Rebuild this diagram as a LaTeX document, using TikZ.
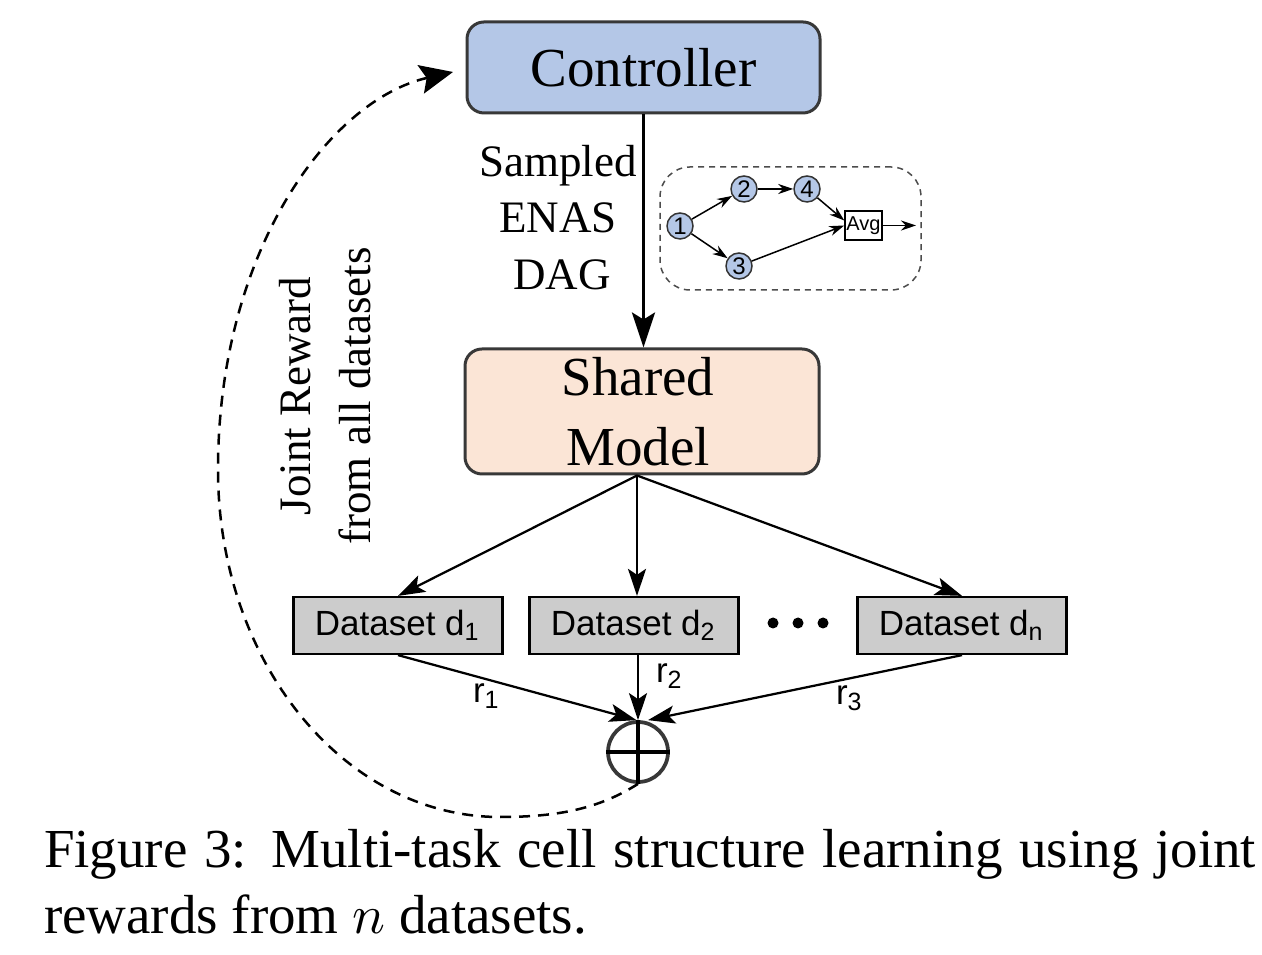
\documentclass[tikz,border=0pt]{standalone}
\usepackage{fontspec}
\setmainfont{Liberation Serif}
\newfontfamily\arialfont{Liberation Sans}
\usetikzlibrary{arrows.meta}
\definecolor{ctrlblue}{HTML}{B4C7E7}
\definecolor{sharedpeach}{HTML}{FBE5D6}
\definecolor{dsgray}{HTML}{CCCCCC}
\definecolor{boxborder}{HTML}{383838}
\begin{document}
\begin{tikzpicture}[x=0.2pt,y=-0.2pt,
  bigbox/.style={draw=boxborder, line width=0.6pt, rounded corners=3.4pt, inner sep=0pt, font=\fontsize{11}{14}\selectfont, align=center},
  dsbox/.style={draw=black, fill=dsgray, line width=0.45pt, minimum width=41.8pt, minimum height=11.4pt, inner sep=0pt, font=\arialfont\fontsize{7}{8}\selectfont},
  flow/.style={line width=0.45pt, -{Stealth[length=5.4pt,width=3.6pt,inset=1.2pt]}},
  mainflow/.style={line width=0.6pt, -{Stealth[length=7pt,width=4.6pt,inset=1.4pt]}},
  feedback/.style={line width=0.5pt, dash pattern=on 2.2pt off 1.6pt, -{Stealth[length=6.6pt,width=5.8pt,inset=1.2pt]}},
  lbl/.style={font=\fontsize{9}{11}\selectfont, inner sep=0pt, anchor=base},
  rlbl/.style={font=\arialfont\fontsize{7}{8}\selectfont, inner sep=0pt, anchor=base west},
  dagnode/.style={circle, draw=black!80, fill=ctrlblue, line width=0.3pt, minimum size=5.2pt, inner sep=0pt, font=\arialfont\fontsize{4.8}{5}\selectfont},
  dagedge/.style={line width=0.3pt, -{Stealth[length=3pt,width=2pt]}},
  avgbox/.style={draw=black, fill=white, line width=0.3pt, minimum width=7.4pt, minimum height=5.8pt, inner sep=0pt, font=\arialfont\fontsize{4}{5}\selectfont},
  dagframe/.style={draw=black!70, line width=0.3pt, dash pattern=on 1.2pt off 1pt, rounded corners=6pt, minimum width=52.2pt, minimum height=24.6pt, inner sep=0pt},
  sumnode/.style={circle, draw=boxborder, line width=0.75pt, minimum size=12pt, inner sep=0pt},
  caption/.style={font=\fontsize{11}{13.5}\selectfont, inner sep=0pt, anchor=base west}
]
\path[fill=white] (0,0) rectangle (1262,955);
\useasboundingbox (0,0) rectangle (1262,955);

% main boxes
\node[bigbox, fill=ctrlblue, minimum width=70.6pt, minimum height=18.2pt] (ctrl) at (643.5,67.5) {Controller};
\node[bigbox, fill=sharedpeach, minimum width=70.8pt, minimum height=25pt] (sh) at (642,411.5) {\hspace*{-1.6pt}Shared\\\hspace*{-1.6pt}Model};

\draw[mainflow] (ctrl.south) -- (ctrl.south |- sh.north);

\node[lbl] (t1) at (558,177) {Sampled};
\node[lbl] (t2) at (558,233) {ENAS};
\node[lbl] (t3) at (562,290) {DAG};

% DAG inset
\node[dagframe] (frame) at (790.5,228.5) {};
\node[dagnode] (n1) at (680,226) {1};
\node[dagnode] (n2) at (744,189) {2};
\node[dagnode] (n4) at (807,189) {4};
\node[dagnode] (n3) at (739,266) {3};
\node[avgbox] (avg) at (863.5,225.5) {Avg};
\coordinate (dagout) at (916,225.5);
\draw[dagedge] (n1) -- (n2);
\draw[dagedge] (n2) -- (n4);
\draw[dagedge] (n4) -- ([yshift=1pt]avg.west);
\draw[dagedge] (n1) -- (n3);
\draw[dagedge] (n3) -- (avg.west);
\draw[dagedge] (avg.east) -- (dagout);

% datasets
\node[dsbox] (d1) at (398,625.5) {Dataset d\textsubscript{1}};
\node[dsbox] (d2) at (634,625.5) {Dataset d\textsubscript{2}};
\node[dsbox] (dn) at (962,625.5) {Dataset d\textsubscript{n}};
\fill (773,623) circle[radius=1.1pt] (798,623) circle[radius=1.1pt] (823,623) circle[radius=1.1pt];

\draw[flow] ([xshift=-1pt]sh.south) -- (d1.north);
\draw[flow] ([xshift=-1pt]sh.south) -- ([xshift=-1pt]sh.south |- d2.north);
\draw[flow] ([xshift=-1pt]sh.south) -- (dn.north);

% sum
\node[sumnode] (sum) at (638,752) {};
\draw[line width=0.7pt] (sum.north) -- (sum.south) (sum.west) -- (sum.east);

\draw[flow] (d1.south) -- ([xshift=-0.3pt]sum.north);
\draw[flow] (d2.south -| sum.north) -- (sum.north);
\draw[flow] (dn.south) -- ([xshift=2pt]sum.north);

\node[rlbl] (r1) at (472,703) {r\textsubscript{1}};
\node[rlbl] (r2) at (655,683) {r\textsubscript{2}};
\node[rlbl] (r3) at (835,705) {r\textsubscript{3}};

% feedback
\coordinate (fbend) at (453,72);
\draw[feedback] (sum.south) .. controls (600,808) and (560,817) .. (500,817)
  .. controls (344,817) and (218,662) .. (218,470)
  .. controls (218,250) and (330,100) .. (fbend);

\node[lbl, rotate=90] (j1) at (310,396) {Joint Reward};
\node[lbl, rotate=90] (j2) at (370,396) {from all datasets};

% caption
\node[caption] (cap1) at (43,867) {\makebox[242.4pt][s]{Figure 3: Multi-task cell structure learning using joint}};
\node[caption] (cap2) at (43,933) {rewards from $n$ datasets.};
\end{tikzpicture}
\end{document}
